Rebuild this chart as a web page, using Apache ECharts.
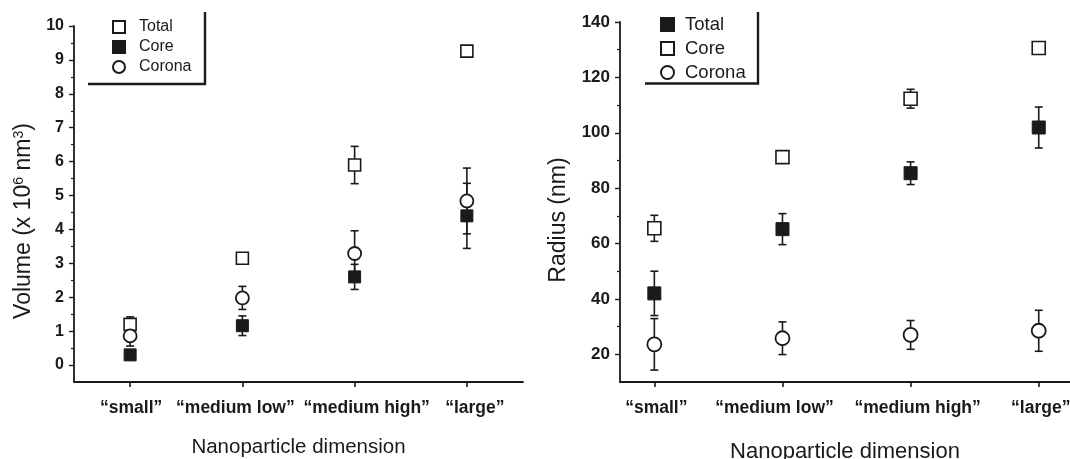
<!DOCTYPE html>
<html>
<head>
<meta charset="utf-8">
<title>Nanoparticle volume and radius</title>
<script src="https://cdn.jsdelivr.net/npm/echarts@6/dist/echarts.min.js"></script>
<style>
  * { margin: 0; padding: 0; }
  html, body { width: 100%; height: 100%; overflow: hidden; background: #fff; }
  #volume { position: absolute; left: 0; top: 0; width: 540px; height: 459px; }
  #radius { position: absolute; left: 540px; top: 0; width: 530px; height: 459px; }
</style>
</head>
<body>
<div id="volume"></div>
<div id="radius"></div>
<script>
var categories = ['“small”', '“medium low”', '“medium high”', '“large”'];

// left panel: volume (x 10^6 nm^3), mean and error
var volTotal = [1.2, 3.15, 5.9, 9.26];
var volTotalErr = [0.22, 0.05, 0.55, 0];
var volCore = [0.3, 1.16, 2.6, 4.4];
var volCoreErr = [0.1, 0.29, 0.37, 0.96];
var volCorona = [0.86, 1.98, 3.29, 4.84];
var volCoronaErr = [0.3, 0.34, 0.67, 0.97];
var volTicks = [0, 1, 2, 3, 4, 5, 6, 7, 8, 9, 10];
var volMinor = [0.5, 1.5, 2.5, 3.5, 4.5, 5.5, 6.5, 7.5, 8.5, 9.5];

// right panel: radius (nm), mean and error
var radTotal = [42, 65.2, 85.4, 101.9];
var radTotalErr = [8, 5.6, 4.1, 7.4];
var radCore = [65.5, 91.2, 112.3, 130.6];
var radCoreErr = [4.7, 1, 3.4, 0];
var radCorona = [23.6, 25.8, 27, 28.5];
var radCoronaErr = [9.3, 5.9, 5.2, 7.4];
var radTicks = [20, 40, 60, 80, 100, 120, 140];
var radMinor = [30, 50, 70, 90, 110, 130];

var FONT = '"Liberation Sans", Arial, sans-serif';
var INK = '#1a1a1a';

var openSquare = { symbol: 'rect', itemStyle: { color: '#fff', borderColor: INK, borderWidth: 1.6, opacity: 1 } };
var fullSquare = { symbol: 'rect', itemStyle: { color: INK, borderColor: INK, borderWidth: 1, opacity: 1 } };
var openCircle = { symbol: 'circle', itemStyle: { color: '#fff', borderColor: INK, borderWidth: 1.8, opacity: 1 } };

function points(values) {
  return values.map(function (v, i) { return [i + 1, v]; });
}

function errorBars(values, errs) {
  return {
    type: 'custom',
    silent: true,
    z: 1,
    yAxisIndex: 0,
    encode: { x: 0, y: [1, 2] },
    data: values.map(function (v, i) { return [i + 1, v - errs[i], v + errs[i]]; }),
    renderItem: function (params, api) {
      var lo = api.coord([api.value(0), api.value(1)]);
      var hi = api.coord([api.value(0), api.value(2)]);
      var w = 4;
      var st = { stroke: INK, lineWidth: 1.6 };
      return {
        type: 'group',
        children: [
          { type: 'line', shape: { x1: lo[0], y1: lo[1], x2: hi[0], y2: hi[1] }, style: st },
          { type: 'line', shape: { x1: lo[0] - w, y1: lo[1], x2: lo[0] + w, y2: lo[1] }, style: st },
          { type: 'line', shape: { x1: hi[0] - w, y1: hi[1], x2: hi[0] + w, y2: hi[1] }, style: st }
        ]
      };
    }
  };
}

function scatter(name, values, look, size) {
  return {
    type: 'scatter',
    name: name,
    z: 3,
    yAxisIndex: 0,
    symbol: look.symbol,
    symbolSize: size,
    itemStyle: look.itemStyle,
    emphasis: { disabled: true },
    data: points(values)
  };
}

// category labels sit a little off their ticks in the original; nudge with padding
function labelRich(shifts) {
  var rich = {};
  shifts.forEach(function (s, i) {
    rich['c' + i] = {
      fontSize: 17.5, fontWeight: 'bold', color: INK, fontFamily: FONT,
      padding: s > 0 ? [0, 0, 0, 2 * s] : [0, -2 * s, 0, 0]
    };
  });
  return rich;
}

function makeOption(cfg) {
  var axisLine = { show: true, onZero: false, lineStyle: { color: INK, width: 1.8 } };
  return {
    animation: false,
    textStyle: { fontFamily: FONT },
    grid: Object.assign({ outerBoundsMode: 'none', containLabel: false }, cfg.grid),
    legend: {
      orient: 'vertical',
      left: cfg.legend.left,
      top: cfg.legend.top,
      itemWidth: cfg.legend.icon,
      itemHeight: cfg.legend.icon,
      itemGap: cfg.legend.gap,
      selectedMode: false,
      textStyle: {
        fontSize: cfg.legend.fontSize, color: INK, fontFamily: FONT,
        padding: [0, 0, 0, cfg.legend.textPad]
      },
      data: cfg.legendNames.map(function (n, i) {
        return { name: n, icon: cfg.looks[i].symbol };
      })
    },
    graphic: [{
      type: 'polyline',
      silent: true,
      shape: { points: cfg.frame },
      style: { stroke: INK, lineWidth: 2.4, fill: null }
    }],
    xAxis: {
      type: 'value',
      min: cfg.xMin,
      max: cfg.xMax,
      splitLine: { show: false },
      axisLine: axisLine,
      axisTick: { show: true, length: 5, customValues: [1, 2, 3, 4], lineStyle: { color: INK, width: 1.6 } },
      axisLabel: {
        customValues: [1, 2, 3, 4],
        margin: 17,
        fontSize: 17.5,
        fontWeight: 'bold',
        color: INK,
        fontFamily: FONT,
        formatter: function (v) {
          var i = Math.round(v) - 1;
          return '{c' + i + '|' + categories[i] + '}';
        },
        rich: labelRich(cfg.labelShift)
      },
      name: 'Nanoparticle dimension',
      nameLocation: 'middle',
      nameGap: cfg.xNameGap,
      nameTextStyle: { fontSize: cfg.xNameSize, color: INK, fontFamily: FONT }
    },
    yAxis: [{
      type: 'value',
      min: cfg.yMin,
      max: cfg.yMax,
      splitLine: { show: false },
      axisLine: axisLine,
      axisTick: { show: true, length: 5, customValues: cfg.ticks, lineStyle: { color: INK, width: 1.4 } },
      axisLabel: { customValues: cfg.ticks, margin: 10, fontSize: cfg.yLabelSize, fontWeight: 'bold', color: INK, fontFamily: FONT },
      name: cfg.yName,
      nameLocation: 'middle',
      nameGap: cfg.yNameGap,
      nameTextStyle: {
        fontSize: cfg.yNameSize, color: INK, fontFamily: FONT,
        padding: [0, cfg.yNameShift, 0, 0],
        rich: { sup: { fontSize: 14, fontFamily: FONT, color: INK, verticalAlign: 'top', padding: [0, 0, 10, 0] } }
      }
    }, {
      type: 'value',
      position: 'left',
      min: cfg.yMin,
      max: cfg.yMax,
      splitLine: { show: false },
      axisLine: { show: false },
      axisTick: { show: true, length: 3, customValues: cfg.minor, lineStyle: { color: INK, width: 1.2 } },
      axisLabel: { show: false }
    }],
    series: [
      errorBars(cfg.values[0], cfg.errs[0]),
      errorBars(cfg.values[1], cfg.errs[1]),
      errorBars(cfg.values[2], cfg.errs[2]),
      scatter(cfg.legendNames[0], cfg.values[0], cfg.looks[0], cfg.sizes[0]),
      scatter(cfg.legendNames[1], cfg.values[1], cfg.looks[1], cfg.sizes[1]),
      scatter(cfg.legendNames[2], cfg.values[2], cfg.looks[2], cfg.sizes[2])
    ]
  };
}

var volChart = echarts.init(document.getElementById('volume'));
volChart.setOption(makeOption({
  grid: { left: 74, right: 17, top: 26, bottom: 77 },
  legend: { left: 107, top: 14, icon: 12, gap: 4, fontSize: 16, textPad: 9 },
  legendNames: ['Total', 'Core', 'Corona'],
  looks: [openSquare, fullSquare, openCircle],
  sizes: [12, 12, 13],
  values: [volTotal, volCore, volCorona],
  errs: [volTotalErr, volCoreErr, volCoronaErr],
  frame: [[88, 84], [205, 84], [205, 12]],
  xMin: 0.5, xMax: 4.5,
  labelShift: [1, -7, 12, 8],
  xNameGap: 55, xNameSize: 20.5,
  yMin: -0.5, yMax: 10,
  ticks: volTicks, minor: volMinor, yLabelSize: 16,
  yName: 'Volume (x 10{sup|6} nm{sup|3})',
  yNameGap: 34, yNameSize: 23, yNameShift: 34
}));

var radChart = echarts.init(document.getElementById('radius'));
radChart.setOption(makeOption({
  grid: { left: 80, right: 0, top: 22, bottom: 77 },
  legend: { left: 115, top: 10, icon: 13, gap: 5, fontSize: 18.5, textPad: 6 },
  legendNames: ['Total', 'Core', 'Corona'],
  looks: [fullSquare, openSquare, openCircle],
  sizes: [13, 13, 14],
  values: [radTotal, radCore, radCorona],
  errs: [radTotalErr, radCoreErr, radCoronaErr],
  frame: [[105, 83.5], [218, 83.5], [218, 12]],
  xMin: 0.732, xMax: 4.244,
  labelShift: [2, -8, 7, 2],
  xNameGap: 59, xNameSize: 22,
  yMin: 10, yMax: 140,
  ticks: radTicks, minor: radMinor, yLabelSize: 17,
  yName: 'Radius (nm)',
  yNameGap: 50, yNameSize: 23, yNameShift: 36
}));
</script>
</body>
</html>
